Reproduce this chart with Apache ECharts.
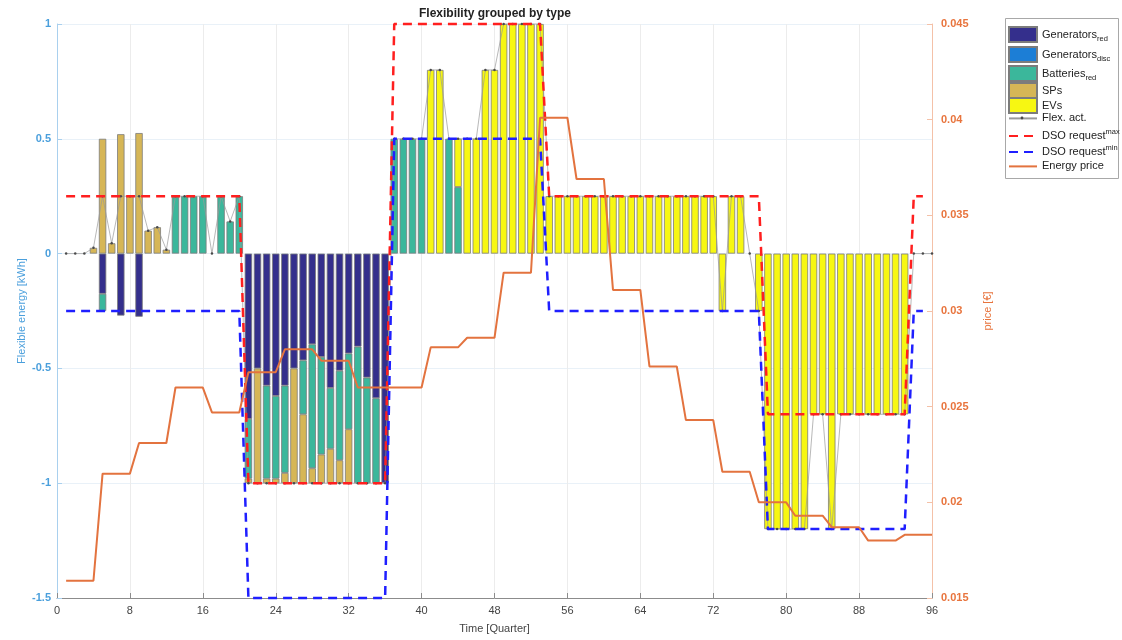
<!DOCTYPE html>
<html>
<head>
<meta charset="utf-8">
<title>Flexibility grouped by type</title>
<script src="https://cdn.jsdelivr.net/npm/echarts@6/dist/echarts.min.js"></script>
<style>
  html, body { margin: 0; padding: 0; background: #fff; }
  #chart { width: 1122px; height: 640px; }
</style>
</head>
<body>
<div id="chart"></div>
<script>
// Quarter-hour slots of the day (x positions of the bars)
const quarters = [
  1, 2, 3, 4, 5, 6, 7, 8, 9, 10, 11, 12, 13, 14, 15, 16,
  17, 18, 19, 20, 21, 22, 23, 24, 25, 26, 27, 28, 29, 30, 31, 32,
  33, 34, 35, 36, 37, 38, 39, 40, 41, 42, 43, 44, 45, 46, 47, 48,
  49, 50, 51, 52, 53, 54, 55, 56, 57, 58, 59, 60, 61, 62, 63, 64,
  65, 66, 67, 68, 69, 70, 71, 72, 73, 74, 75, 76, 77, 78, 79, 80,
  81, 82, 83, 84, 85, 86, 87, 88, 89, 90, 91, 92, 93, 94, 95, 96
];

// Flexible energy per type [kWh]
const generatorsRed = [
  0, 0, 0, 0, -0.175, 0, -0.27, 0,
  -0.275, 0, 0, 0, 0, 0, 0, 0,
  0, 0, 0, 0, -0.72, -0.5, -0.575, -0.62,
  -0.575, -0.5, -0.465, -0.395, -0.45, -0.585, -0.51, -0.435,
  -0.405, -0.54, -0.63, -1.0, 0, 0, 0, 0,
  0, 0, 0, 0, 0, 0, 0, 0,
  0, 0, 0, 0, 0, 0, 0, 0,
  0, 0, 0, 0, 0, 0, 0, 0,
  0, 0, 0, 0, 0, 0, 0, 0,
  0, 0, 0, 0, 0, 0, 0, 0,
  0, 0, 0, 0, 0, 0, 0, 0,
  0, 0, 0, 0, 0, 0, 0, 0
];
const generatorsDisc = [
  0, 0, 0, 0, 0, 0, 0, 0,
  0, 0, 0, 0, 0, 0, 0, 0,
  0, 0, 0, 0, 0, 0, 0, 0,
  0, 0, 0, 0, 0, 0, 0, 0,
  0, 0, 0, 0, 0, 0, 0, 0,
  0, 0, 0, 0, 0, 0, 0, 0,
  0, 0, 0, 0, 0, 0, 0, 0,
  0, 0, 0, 0, 0, 0, 0, 0,
  0, 0, 0, 0, 0, 0, 0, 0,
  0, 0, 0, 0, 0, 0, 0, 0,
  0, 0, 0, 0, 0, 0, 0, 0,
  0, 0, 0, 0, 0, 0, 0, 0
];
const batteriesRed = [
  0, 0, 0, 0, -0.075, 0, 0, 0,
  0, 0, 0, 0, 0.25, 0.25, 0.25, 0.25,
  0, 0.25, 0.14, 0.25, -0.26, 0, -0.405, -0.36,
  -0.38, 0, -0.235, -0.54, -0.425, -0.265, -0.39, -0.33,
  -0.595, -0.46, -0.37, 0, 0.5, 0.5, 0.5, 0.5,
  0, 0, 0.5, 0.29, 0, 0, 0, 0,
  0, 0, 0, 0, 0, 0, 0, 0,
  0, 0, 0, 0, 0, 0, 0, 0,
  0, 0, 0, 0, 0, 0, 0, 0,
  0, 0, 0, 0, 0, 0, 0, 0,
  0, 0, 0, 0, 0, 0, 0, 0,
  0, 0, 0, 0, 0, 0, 0, 0
];
const sps = [
  0, 0, 0, 0.025, 0.5, 0.045, 0.52, 0.25,
  0.525, 0.1, 0.115, 0.017, 0, 0, 0, 0,
  0, 0, 0, 0, -0.02, -0.5, -0.02, -0.02,
  -0.045, -0.5, -0.3, -0.065, -0.125, -0.15, -0.1, -0.235,
  0, 0, 0, 0, 0, 0, 0, 0,
  0, 0, 0, 0, 0, 0, 0, 0,
  0, 0, 0, 0, 0, 0, 0, 0,
  0, 0, 0, 0, 0, 0, 0, 0,
  0, 0, 0, 0, 0, 0, 0, 0,
  0, 0, 0, 0, 0, 0, 0, 0,
  0, 0, 0, 0, 0, 0, 0, 0,
  0, 0, 0, 0, 0, 0, 0, 0
];
const evs = [
  0, 0, 0, 0, 0, 0, 0, 0,
  0, 0, 0, 0, 0, 0, 0, 0,
  0, 0, 0, 0, 0, 0, 0, 0,
  0, 0, 0, 0, 0, 0, 0, 0,
  0, 0, 0, 0, 0, 0, 0, 0,
  0.8, 0.8, 0, 0.21, 0.5, 0.5, 0.8, 0.8,
  1, 1, 1, 1, 1, 0.25, 0.25, 0.25,
  0.25, 0.25, 0.25, 0.25, 0.25, 0.25, 0.25, 0.25,
  0.25, 0.25, 0.25, 0.25, 0.25, 0.25, 0.25, 0.25,
  -0.25, 0.25, 0.25, 0, -0.25, -1.2, -1.2, -1.2,
  -1.2, -1.2, -0.7, -0.7, -1.2, -0.7, -0.7, -0.7,
  -0.7, -0.7, -0.7, -0.7, -0.7, 0, 0, 0
];

// Activated flexibility (net) [kWh]
const flexAct = [
  0, 0, 0, 0.025, 0.25, 0.045, 0.25, 0.25,
  0.25, 0.1, 0.115, 0.017, 0.25, 0.25, 0.25, 0.25,
  0, 0.25, 0.14, 0.25, -1, -1, -1, -1,
  -1, -1, -1, -1, -1, -1, -1, -1,
  -1, -1, -1, -1, 0.5, 0.5, 0.5, 0.5,
  0.8, 0.8, 0.5, 0.5, 0.5, 0.5, 0.8, 0.8,
  1, 1, 1, 1, 1, 0.25, 0.25, 0.25,
  0.25, 0.25, 0.25, 0.25, 0.25, 0.25, 0.25, 0.25,
  0.25, 0.25, 0.25, 0.25, 0.25, 0.25, 0.25, 0.25,
  -0.25, 0.25, 0.25, 0, -0.25, -1.2, -1.2, -1.2,
  -1.2, -1.2, -0.7, -0.7, -1.2, -0.7, -0.7, -0.7,
  -0.7, -0.7, -0.7, -0.7, -0.7, 0, 0, 0
];

// DSO request bounds [kWh]
const dsoMax = [
  0.25, 0.25, 0.25, 0.25, 0.25, 0.25, 0.25, 0.25,
  0.25, 0.25, 0.25, 0.25, 0.25, 0.25, 0.25, 0.25,
  0.25, 0.25, 0.25, 0.25, -1, -1, -1, -1,
  -1, -1, -1, -1, -1, -1, -1, -1,
  -1, -1, -1, -1, 1, 1, 1, 1,
  1, 1, 1, 1, 1, 1, 1, 1,
  1, 1, 1, 1, 1, 0.25, 0.25, 0.25,
  0.25, 0.25, 0.25, 0.25, 0.25, 0.25, 0.25, 0.25,
  0.25, 0.25, 0.25, 0.25, 0.25, 0.25, 0.25, 0.25,
  0.25, 0.25, 0.25, 0.25, 0.25, -0.7, -0.7, -0.7,
  -0.7, -0.7, -0.7, -0.7, -0.7, -0.7, -0.7, -0.7,
  -0.7, -0.7, -0.7, -0.7, -0.7, 0.25, 0.25, null
];
const dsoMin = [
  -0.25, -0.25, -0.25, -0.25, -0.25, -0.25, -0.25, -0.25,
  -0.25, -0.25, -0.25, -0.25, -0.25, -0.25, -0.25, -0.25,
  -0.25, -0.25, -0.25, -0.25, -1.5, -1.5, -1.5, -1.5,
  -1.5, -1.5, -1.5, -1.5, -1.5, -1.5, -1.5, -1.5,
  -1.5, -1.5, -1.5, -1.5, 0.5, 0.5, 0.5, 0.5,
  0.5, 0.5, 0.5, 0.5, 0.5, 0.5, 0.5, 0.5,
  0.5, 0.5, 0.5, 0.5, 0.5, -0.25, -0.25, -0.25,
  -0.25, -0.25, -0.25, -0.25, -0.25, -0.25, -0.25, -0.25,
  -0.25, -0.25, -0.25, -0.25, -0.25, -0.25, -0.25, -0.25,
  -0.25, -0.25, -0.25, -0.25, -0.25, -1.2, -1.2, -1.2,
  -1.2, -1.2, -1.2, -1.2, -1.2, -1.2, -1.2, -1.2,
  -1.2, -1.2, -1.2, -1.2, -1.2, -0.25, -0.25, null
];

// Energy price [€] per quarter
const energyPrice = [
  0.0159, 0.0159, 0.0159, 0.0159, 0.0215, 0.0215, 0.0215, 0.0215,
  0.0231, 0.0231, 0.0231, 0.0231, 0.0260, 0.0260, 0.0260, 0.0260,
  0.0247, 0.0247, 0.0247, 0.0247, 0.0268, 0.0268, 0.0268, 0.0268,
  0.0280, 0.0280, 0.0280, 0.0280, 0.0274, 0.0274, 0.0274, 0.0274,
  0.0260, 0.0260, 0.0260, 0.0260, 0.0260, 0.0260, 0.0260, 0.0260,
  0.0281, 0.0281, 0.0281, 0.0281, 0.0286, 0.0286, 0.0286, 0.0286,
  0.0320, 0.0320, 0.0320, 0.0320, 0.0401, 0.0401, 0.0401, 0.0401,
  0.0369, 0.0369, 0.0369, 0.0369, 0.0311, 0.0311, 0.0311, 0.0311,
  0.0271, 0.0271, 0.0271, 0.0271, 0.0243, 0.0243, 0.0243, 0.0243,
  0.0216, 0.0216, 0.0216, 0.0216, 0.0200, 0.0200, 0.0200, 0.0200,
  0.0193, 0.0193, 0.0193, 0.0193, 0.0187, 0.0187, 0.0187, 0.0187,
  0.0180, 0.0180, 0.0180, 0.0180, 0.0183, 0.0183, 0.0183, 0.0183
];

const xLabelEvery = 8;   // a tick label every 8 quarters (0, 8, ..., 96)
const energyTicks = { min: -1.5, max: 1, interval: 0.5 };
const priceTicks = { min: 0.015, max: 0.045, interval: 0.005 };

const FONT = 'Liberation Sans, Arial, Helvetica, sans-serif';
const LEFT_COLOR = '#4a9fdc';
const RIGHT_COLOR = '#e8743d';

// x axis slots: quarter 0 (the axis origin) followed by the 96 quarters
const slots = [0].concat(quarters).map(String);

// values aligned to the slots; empty bar segments are left out
const aligned = (vals, dropZero) =>
  [null].concat(vals.map(v => (v === null || (dropZero && v === 0)) ? null : v));

const barSeries = (name, vals, color) => ({
  name, type: 'bar', stack: 'flex', yAxisIndex: 0,
  barWidth: 7.4, z: 2,
  data: aligned(vals, true),
  itemStyle: { color, borderColor: '#7c7c7c', borderWidth: 0.8 }
});

const lineSeries = (name, vals, axis, style, extra) => Object.assign({
  name, type: 'line', yAxisIndex: axis,
  data: aligned(vals, false), symbol: 'none', clip: false,
  lineStyle: style, itemStyle: { color: style.color }
}, extra || {});

// legend entries: label with sub/superscript, vertical centre
const legendEntries = [
  { name: 'Generators_red',  label: '{t|Generators}{s|red}',   y: 34,  bar: true },
  { name: 'Generators_disc', label: '{t|Generators}{s|disc}',  y: 54,  bar: true },
  { name: 'Batteries_red',   label: '{t|Batteries}{s|red}',    y: 73,  bar: true },
  { name: 'SPs',             label: '{t|SPs}',                 y: 90,  bar: true },
  { name: 'EVs',             label: '{t|EVs}',                 y: 105, bar: true },
  { name: 'Flex. act.',      label: '{t|Flex. act.}',          y: 120, bar: false },
  { name: 'DSO request_max', label: '{t|DSO request}{p|max}',  y: 136, bar: false },
  { name: 'DSO request_min', label: '{t|DSO request}{p|min}',  y: 152, bar: false },
  { name: 'Energy price',    label: '{t|Energy price}',        y: 168, bar: false }
];
const rich = {
  t: { fontFamily: FONT, fontSize: 11, color: '#222', lineHeight: 16 },
  s: { fontFamily: FONT, fontSize: 7.5, color: '#222', verticalAlign: 'bottom', lineHeight: 9 },
  p: { fontFamily: FONT, fontSize: 7.5, color: '#222', verticalAlign: 'top', lineHeight: 9 }
};
const LEG_X = 1008, LEG_W = 28;
const legends = legendEntries.map(e => ({
  orient: 'vertical', left: LEG_X, top: e.y - 8, z: 10, padding: 0,
  itemWidth: LEG_W, itemHeight: e.bar ? 15 : 16, itemGap: 0,
  icon: e.bar ? 'rect' : undefined,
  selectedMode: false,
  data: [e.bar ? { name: e.name } : { name: e.name, itemStyle: { opacity: 0 } }],
  formatter: () => e.label,
  textStyle: { rich }
}));

const chart = echarts.init(document.getElementById('chart'), null, { renderer: 'canvas' });

chart.setOption({
  animation: false,
  backgroundColor: '#ffffff',
  textStyle: { fontFamily: FONT },
  grid: { left: 57, top: 24, width: 875, height: 574, containLabel: false },
  graphic: [
    {
      type: 'text', x: 495, y: 14, z: 10,
      style: {
        text: 'Flexibility grouped by type', font: 'bold 12px ' + FONT,
        fill: '#222', textAlign: 'center', textVerticalAlign: 'middle'
      }
    },
    {
      type: 'rect', z: 1,
      shape: { x: 1005.5, y: 18.5, width: 113, height: 160 },
      style: { fill: '#ffffff', stroke: '#a8a8a8', lineWidth: 1 }
    },
    {
      // marker dot on the "Flex. act." legend line
      type: 'circle', z: 20,
      shape: { cx: LEG_X + LEG_W / 2, cy: 118, r: 1.4 },
      style: { fill: '#4a4a4a' }
    }
  ],
  legend: legends,
  xAxis: {
    type: 'category', data: slots, boundaryGap: false,
    name: 'Time [Quarter]', nameLocation: 'middle', nameGap: 25,
    nameTextStyle: { fontFamily: FONT, fontSize: 11, color: '#444' },
    axisLine: { show: true, onZero: false, lineStyle: { color: '#8c8c8c', width: 1 } },
    axisTick: { show: true, inside: true, length: 5, interval: xLabelEvery - 1,
                lineStyle: { color: '#8c8c8c' } },
    axisLabel: { fontFamily: FONT, fontSize: 11, color: '#444', margin: 7,
                 interval: xLabelEvery - 1 },
    splitLine: { show: true, interval: xLabelEvery - 1,
                 lineStyle: { color: '#ececec', width: 1 } }
  },
  yAxis: [
    {
      type: 'value', position: 'left',
      min: energyTicks.min, max: energyTicks.max, interval: energyTicks.interval,
      name: 'Flexible energy [kWh]', nameLocation: 'middle', nameGap: 30,
      nameMoveOverlap: false,
      nameTextStyle: { fontFamily: FONT, fontSize: 11, color: LEFT_COLOR },
      axisLine: { show: true, lineStyle: { color: '#a9d0ee', width: 1 } },
      axisTick: { show: true, inside: true, length: 5, lineStyle: { color: '#a9d0ee' } },
      axisLabel: { fontFamily: FONT, fontSize: 11, color: LEFT_COLOR, margin: 6, fontWeight: 'bold' },
      splitLine: { show: true, lineStyle: { color: '#e9f1f8', width: 1 } }
    },
    {
      type: 'value', position: 'right',
      min: priceTicks.min, max: priceTicks.max, interval: priceTicks.interval,
      name: 'price [€]', nameLocation: 'middle', nameGap: 50,
      nameTextStyle: { fontFamily: FONT, fontSize: 11, color: RIGHT_COLOR },
      axisLine: { show: true, lineStyle: { color: '#f4c1a8', width: 1 } },
      axisTick: { show: true, inside: true, length: 5, lineStyle: { color: '#f4c1a8' } },
      axisLabel: {
        fontFamily: FONT, fontSize: 11, color: RIGHT_COLOR, margin: 9, fontWeight: 'bold',
        formatter: (v) => String(parseFloat(v.toFixed(4)))
      },
      splitLine: { show: false }
    }
  ],
  series: [
    barSeries('Generators_red', generatorsRed, '#342f8c'),
    barSeries('Generators_disc', generatorsDisc, '#1c7ed6'),
    barSeries('Batteries_red', batteriesRed, '#3bb79b'),
    barSeries('SPs', sps, '#d6b656'),
    barSeries('EVs', evs, '#f7f712'),
    lineSeries('Flex. act.', flexAct, 0,
      { color: '#9a9a9a', width: 0.7 },
      { symbol: 'circle', symbolSize: 2.5, showAllSymbol: true, z: 3,
        itemStyle: { color: '#4a4a4a' } }),
    lineSeries('DSO request_max', dsoMax, 0,
      { color: '#ff1f1f', width: 2.5, type: [9, 6] }, { z: 4 }),
    lineSeries('DSO request_min', dsoMin, 0,
      { color: '#1f1fff', width: 2.5, type: [9, 6] }, { z: 4 }),
    lineSeries('Energy price', energyPrice, 1,
      { color: '#e3733f', width: 2 }, { z: 5 })
  ]
});
</script>
</body>
</html>
